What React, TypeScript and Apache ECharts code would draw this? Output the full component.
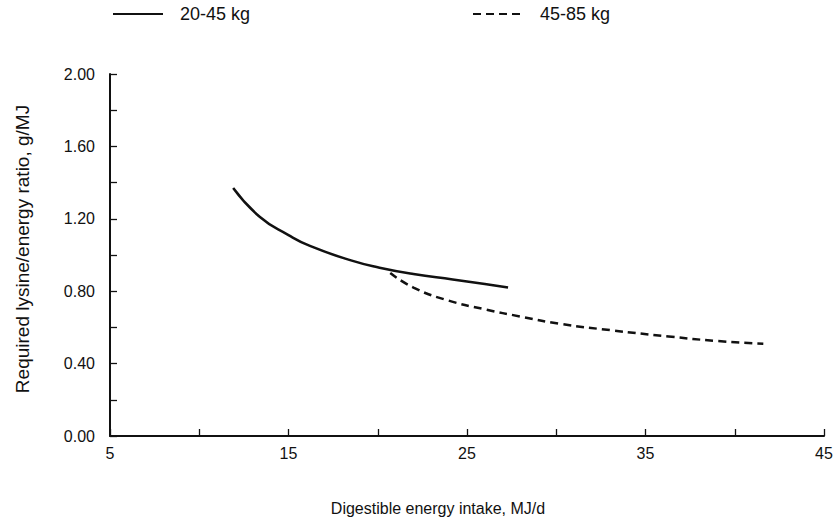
import React, { useEffect, useRef } from "react";
import * as echarts from "echarts";

// Digestible energy intake (MJ/d) vs required lysine/energy ratio (g/MJ)
const lightPigs: [number, number][] = [
  [11.9, 1.37], [13.4, 1.21], [15.0, 1.11], [16.2, 1.05], [18.5, 0.97],
  [20.1, 0.93], [22.0, 0.895], [24.2, 0.865], [26.0, 0.84], [27.3, 0.82],
];
const heavyPigs: [number, number][] = [
  [20.7, 0.9], [22.0, 0.82], [23.9, 0.75], [26.0, 0.7], [28.0, 0.66],
  [30.2, 0.62], [33.0, 0.585], [36.3, 0.55], [39.0, 0.525], [41.6, 0.51],
];
const seriesNames = ["20-45 kg", "45-85 kg"];
const xLabelValues = [5, 15, 25, 35, 45];

const FONT = "Liberation Sans, Arial, sans-serif";
const INK = "#111";

const legendBase = {
  top: 5,
  padding: 0,
  itemWidth: 50,
  itemHeight: 16,
  itemStyle: { opacity: 0 },
  textStyle: { fontFamily: FONT, fontSize: 18, color: INK, padding: [0, 0, 0, 12] },
};

export default function App() {
  const ref = useRef<HTMLDivElement>(null);

  useEffect(() => {
    document.body.style.margin = "0";
    if (!ref.current) return;
    const chart = echarts.init(ref.current, undefined, { renderer: "svg" });
    chart.setOption({
      animation: false,
      backgroundColor: "#fff",
      textStyle: { fontFamily: FONT, color: INK },
      legend: [
        { ...legendBase, left: 112, data: [seriesNames[0]] },
        { ...legendBase, left: 472, data: [seriesNames[1]] },
      ],
      grid: { left: 110, right: 15, top: 74, bottom: 85 },
      xAxis: {
        type: "value",
        min: 5,
        max: 45,
        interval: 5,
        axisLine: { lineStyle: { color: INK, width: 2 } },
        axisTick: { inside: true, length: 7, lineStyle: { color: INK, width: 1.3 } },
        splitLine: { show: false },
        axisLabel: {
          margin: 9,
          fontSize: 16,
          fontFamily: FONT,
          color: INK,
          formatter: (v: number) => (xLabelValues.includes(v) ? String(v) : ""),
        },
      },
      yAxis: {
        type: "value",
        min: 0,
        max: 2,
        interval: 0.2,
        axisLine: { show: true, lineStyle: { color: INK, width: 2 } },
        axisTick: { inside: true, length: 7, lineStyle: { color: INK, width: 1.3 } },
        splitLine: { show: false },
        axisLabel: {
          margin: 15,
          fontSize: 16,
          fontFamily: FONT,
          color: INK,
          formatter: (v: number) => {
            const r = Math.round(v * 10);
            return r % 4 === 0 ? v.toFixed(2) : "";
          },
        },
      },
      graphic: [
        {
          type: "text",
          x: 22,
          y: 249,
          rotation: Math.PI / 2,
          style: {
            text: "Required lysine/energy ratio, g/MJ",
            font: `19px ${FONT}`,
            fill: INK,
            align: "center",
            verticalAlign: "middle",
          },
        },
        {
          type: "text",
          x: 438,
          y: 508,
          style: {
            text: "Digestible energy intake, MJ/d",
            font: `16px ${FONT}`,
            fill: INK,
            align: "center",
            verticalAlign: "middle",
          },
        },
      ],
      series: [
        {
          name: seriesNames[0],
          type: "line",
          data: lightPigs,
          smooth: true,
          symbol: "none",
          lineStyle: { color: INK, width: 2.5 },
          itemStyle: { color: INK },
        },
        {
          name: seriesNames[1],
          type: "line",
          data: heavyPigs,
          smooth: true,
          symbol: "none",
          lineStyle: { color: INK, width: 2.5, type: [8, 5] },
          itemStyle: { color: INK },
        },
      ],
    });
    return () => chart.dispose();
  }, []);

  return <div ref={ref} style={{ width: 839, height: 521 }} />;
}
